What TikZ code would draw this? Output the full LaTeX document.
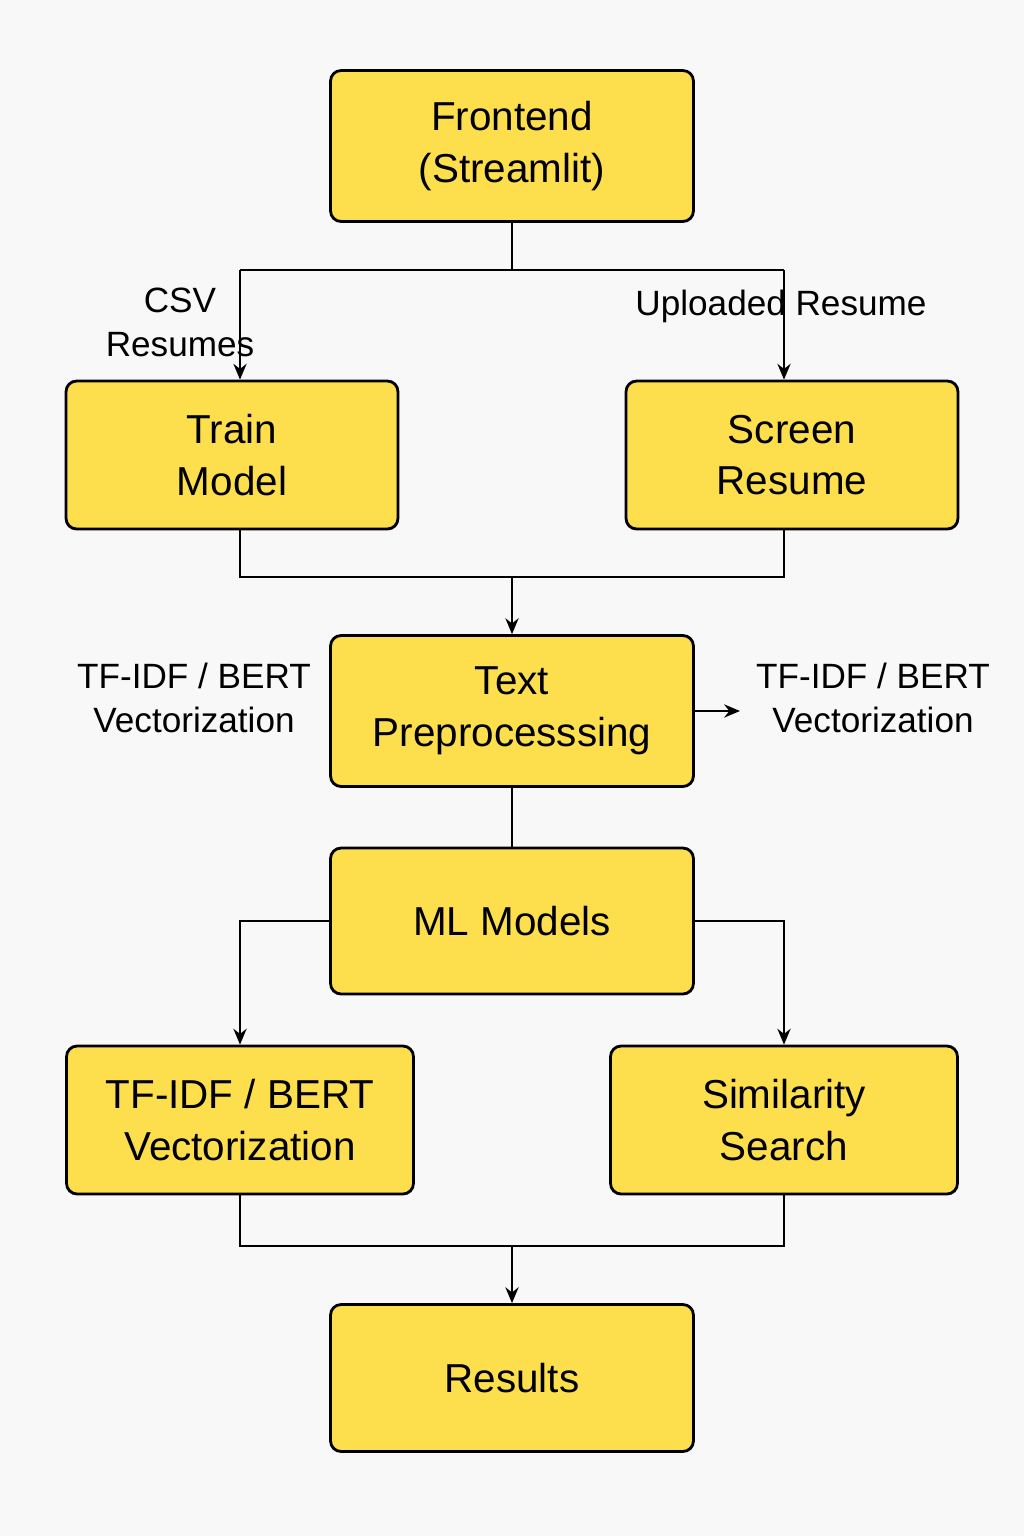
\documentclass[tikz,border=0pt]{standalone}
\usepackage{fontspec}
\setmainfont{Liberation Sans}
\usetikzlibrary{arrows.meta}

\definecolor{yel}{RGB}{253,222,76}
\definecolor{bgr}{RGB}{248,248,248}

\begin{document}
\begin{tikzpicture}[x=0.02cm,y=-0.02cm,line width=1.4pt,
    box/.style={draw,line width=1.6pt,fill=yel,rounded corners=6pt,align=center,inner sep=0pt,
        font=\fontsize{23}{29.5}\selectfont},
    lbl/.style={align=center,font=\fontsize{20}{25}\selectfont},
    arr/.style={-{Stealth[length=9pt,width=7.5pt]}}]
    \fill[bgr] (0,0) rectangle (1024,1536);
    \useasboundingbox (0,0) rectangle (1024,1536);
    %
    \node[box,minimum width=7.26cm,minimum height=3.02cm] (front) at (512,146) {Frontend\\(Streamlit)};
    \node[box,minimum width=6.64cm,minimum height=2.96cm] (train) at (232,455) {Train\\Model};
    \node[box,minimum width=6.64cm,minimum height=2.96cm] (screen) at (792,455) {Screen\\Resume};
    \node[box,minimum width=7.26cm,minimum height=3.02cm] (prep) at (512,711) {Text\\Preprocesssing};
    \node[box,minimum width=7.26cm,minimum height=2.92cm] (ml) at (512,921) {ML Models};
    \node[box,minimum width=6.94cm,minimum height=2.96cm] (vec) at (240,1120) {TF-IDF / BERT\\Vectorization};
    \node[box,minimum width=6.94cm,minimum height=2.96cm] (sim) at (784,1120) {Similarity\\Search};
    \node[box,minimum width=7.26cm,minimum height=2.94cm] (res) at (512,1378) {Results};
    %
    \coordinate (splitL) at (240,270);
    \coordinate (splitR) at (784,270);
    \coordinate (joinL) at (240,577);
    \coordinate (joinR) at (784,577);
    \coordinate (joinM) at (512,577);
    \coordinate (merge) at (512,1246);
    \coordinate (vecend) at (740,711);
    %
    \draw (front.south) |- (splitL);
    \draw (front.south) |- (splitR);
    \draw[arr] (splitL) -- (splitL |- train.north);
    \draw[arr] (splitR) -- (splitR |- screen.north);
    \draw (joinL |- train.south) -- (joinL) -- (joinR) -- (joinR |- screen.south);
    \draw[arr] (joinM) -- (prep.north);
    \draw[arr] (prep.east) -- (vecend);
    \draw (prep) -- (ml);
    \draw[arr] (ml.west) -| (vec.north);
    \draw[arr] (ml.east) -| (sim.north);
    \draw (vec.south) |- (merge) -| (sim.south);
    \draw[arr] (merge) -- (res.north);
    %
    \node[lbl] (csv) at (180,322) {CSV\\Resumes};
    \node[lbl] (upl) at (781,306) {Uploaded Resume};
    \node[lbl] (vecL) at (194,698) {TF-IDF / BERT\\Vectorization};
    \node[lbl] (vecR) at (873,698) {TF-IDF / BERT\\Vectorization};
    %
\end{tikzpicture}
\end{document}
